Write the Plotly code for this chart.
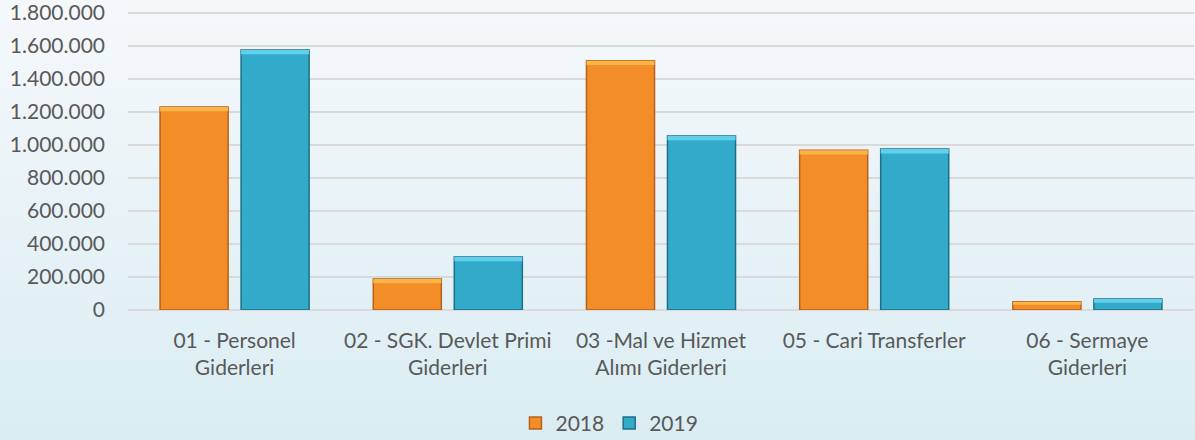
import plotly.graph_objects as go

categories = [
    "01 - Personel<br>Giderleri",
    "02 - SGK. Devlet Primi<br>Giderleri",
    "03 -Mal ve Hizmet<br>Alımı Giderleri",
    "05 - Cari Transferler",
    "06 - Sermaye<br>Giderleri",
]
values_2018 = [1230000, 188000, 1510000, 968000, 50000]
values_2019 = [1576000, 321000, 1055000, 975000, 67000]
series_names = ["2018", "2019"]
y_ticks = [0, 200000, 400000, 600000, 800000, 1000000, 1200000, 1400000, 1600000, 1800000]

FONT = "Lato, 'Open Sans', sans-serif"
TEXT = "#595959"

BEVEL = 26000  # thickness of top highlight (data units)


def bevel_parts(vals):
    d = [min(BEVEL, v * 0.35) for v in vals]
    return [v - di for v, di in zip(vals, d)], d


fig = go.Figure()
fig.add_trace(go.Bar(
    name=series_names[0], x=categories, y=values_2018, offsetgroup="a",
    marker=dict(color="#f38d27", line=dict(color="#b5621c", width=1.5)),
))
b, d = bevel_parts(values_2018)
fig.add_trace(go.Bar(
    name="hl18", x=categories, y=d, base=b, offsetgroup="a", showlegend=False,
    hoverinfo="skip", marker=dict(color="#fbb547", line=dict(width=0)),
))
fig.add_trace(go.Bar(
    name=series_names[1], x=categories, y=values_2019, offsetgroup="b",
    marker=dict(color="#32abcb", line=dict(color="#1d6f86", width=1.5)),
))
b, d = bevel_parts(values_2019)
fig.add_trace(go.Bar(
    name="hl19", x=categories, y=d, base=b, offsetgroup="b", showlegend=False,
    hoverinfo="skip", marker=dict(color="#62d0ec", line=dict(width=0)),
))

# background vertical gradient (bands in paper coordinates)
PH = 299  # plot height in px, used only to place the background bands
top = (245, 248, 251)
bot = (218, 237, 243)
n = 44
y0p, y1p = -130 / PH, 1 + 11 / PH
shapes = []
for i in range(n):
    t = i / (n - 1)
    c = tuple(round(top[k] + (bot[k] - top[k]) * t) for k in range(3))
    ya = y1p - (y1p - y0p) * i / n
    yb = y1p - (y1p - y0p) * (i + 1) / n
    shapes.append(dict(type="rect", xref="paper", yref="paper",
                       x0=-130 / 1066, x1=1 + 3 / 1066, y0=yb - 0.003, y1=ya + 0.003,
                       fillcolor="rgb(%d,%d,%d)" % c, line=dict(width=0),
                       layer="below"))

fig.update_layout(
    width=1195, height=440,
    margin=dict(l=128, r=1, t=11, b=130, autoexpand=False),
    paper_bgcolor="#e9f3f7",
    plot_bgcolor="rgba(0,0,0,0)",
    separators=",.",
    barmode="group",
    bargap=0.24,
    bargroupgap=0.16,
    font=dict(family=FONT, size=21, color=TEXT),
    shapes=shapes,
    showlegend=True,
    legend=dict(orientation="h", xref="container", yref="container",
                x=0.51, xanchor="center", y=0.038, yanchor="middle",
                font=dict(size=21, color=TEXT), bgcolor="rgba(0,0,0,0)",
                itemwidth=30, traceorder="normal"),
    xaxis=dict(showgrid=False, showline=False, ticks="", tickfont=dict(size=21),
               ticklabelstandoff=16, automargin=False),
    yaxis=dict(range=[0, 1812000], tickvals=y_ticks, tickformat=",d",
               showgrid=True, gridcolor="#d9d9d9", gridwidth=2,
               zeroline=True, zerolinecolor="#d9d9d9", zerolinewidth=2,
               showline=False, ticks="", ticklabelstandoff=22,
               ticklabeloverflow="allow",
               tickfont=dict(size=21), automargin=False),
)

fig.write_html("out.html", config={"displayModeBar": False},
               post_script="document.body.style.margin='0';")
